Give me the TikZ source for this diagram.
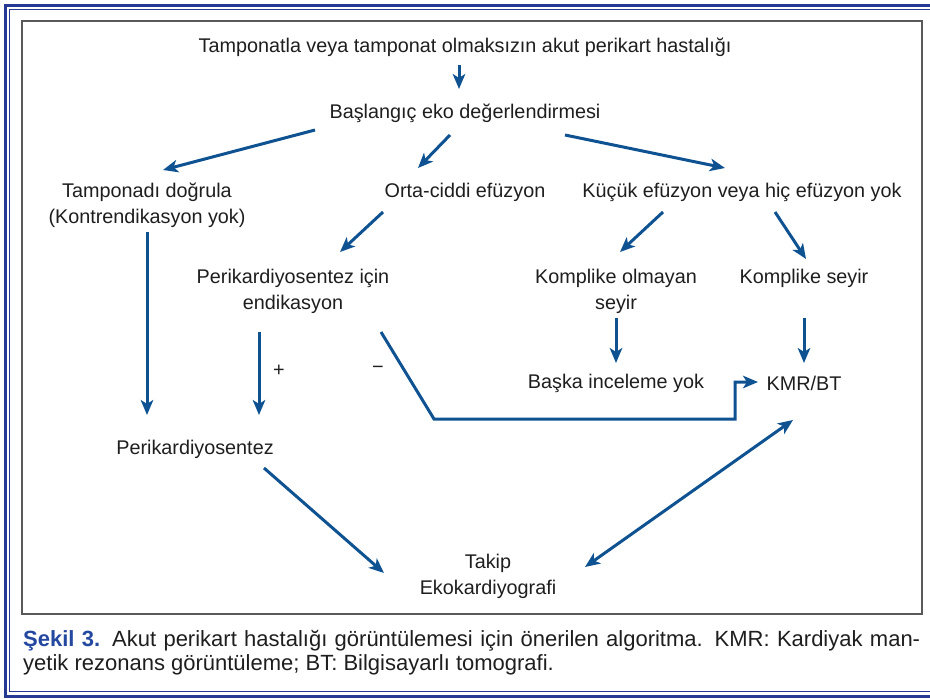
\documentclass[tikz,border=0pt]{standalone}
\usepackage{fontspec}
\setmainfont{Liberation Sans}
\usetikzlibrary{arrows.meta}
\definecolor{arrblue}{RGB}{14,82,146}
\definecolor{frameblue}{RGB}{38,58,148}
\definecolor{capblue}{RGB}{36,72,160}
\definecolor{txt}{RGB}{30,30,30}
\begin{document}
\begin{tikzpicture}[x=1pt,y=-1pt,
  lbl/.style={font=\fontsize{19.8}{26}\selectfont, text=txt, inner sep=0pt, align=center},
  tip/.tip={Stealth[length=15pt,width=12.5pt,inset=4pt]},
  arr/.style={draw=arrblue, line width=3pt, -tip},
  darr/.style={draw=arrblue, line width=3pt, tip-tip},
  capt/.style={anchor=base west, inner sep=0pt, text=txt, font=\fontsize{22}{24}\selectfont}
]
\useasboundingbox (0,0) rectangle (930,699);
% frame
\draw[frameblue, line width=3pt] (930,5) -- (5,5) -- (5,696) -- (930,696);
\draw[frameblue, line width=1.3pt] (930,9.5) -- (9.5,9.5) -- (9.5,691.5) -- (930,691.5);
\draw[black!65, line width=1.4pt] (22,21) rectangle (922,614);

% nodes
\node[lbl] (top) at (465,47) {Tamponatla veya tamponat olmaksızın akut perikart hastalığı};
\node[lbl] (bas) at (465,113) {Başlangıç eko değerlendirmesi};
\node[lbl] (tam) at (147,205) {Tamponadı doğrula\\(Kontrendikasyon yok)};
\node[lbl] (orta) at (465,192) {Orta-ciddi efüzyon};
\node[lbl] (kucuk) at (742,192) {Küçük efüzyon veya hiç efüzyon yok};
\node[lbl] (endi) at (293,291) {Perikardiyosentez için\\endikasyon};
\node[lbl] (kom) at (616,291) {Komplike olmayan\\seyir};
\node[lbl] (komp) at (804,278) {Komplike seyir};
\node[lbl] (baska) at (616,383) {Başka inceleme yok};
\node[lbl] (kmr) at (804,383) {KMR/BT};
\node[lbl] (peri) at (195,449) {Perikardiyosentez};
\node[lbl] (takip) at (488,576) {Takip\\Ekokardiyografi};
\node[lbl] (plus) at (279,371) {+};
\node[lbl] (minus) at (378,370) {−};

% connector end points
\coordinate (a1) at (459,65);  \coordinate (a2) at (459,89);
\coordinate (b1) at (315,130); \coordinate (b2) at (163,170);
\coordinate (c1) at (450,135); \coordinate (c2) at (418,168);
\coordinate (d1) at (565,135); \coordinate (d2) at (725,168);
\coordinate (e1) at (383,212); \coordinate (e2) at (340,252);
\coordinate (f1) at (663,212); \coordinate (f2) at (620,252);
\coordinate (g1) at (775,212); \coordinate (g2) at (806,259);
\coordinate (h1) at (616,318); \coordinate (h2) at (616,363);
\coordinate (i1) at (804,318); \coordinate (i2) at (804,363);
\coordinate (j1) at (147,232); \coordinate (j2) at (147,415);
\coordinate (k1) at (259,332); \coordinate (k2) at (259,415);
\coordinate (m1) at (381,332); \coordinate (m2) at (434,419);
\coordinate (m3) at (735,419); \coordinate (m4) at (735,382); \coordinate (m5) at (758,382);
\coordinate (n1) at (264,468); \coordinate (n2) at (384,573);
\coordinate (p1) at (585,567); \coordinate (p2) at (793,420);

\draw[arr] (a1) -- (a2);
\draw[arr] (b1) -- (b2);
\draw[arr] (c1) -- (c2);
\draw[arr] (d1) -- (d2);
\draw[arr] (e1) -- (e2);
\draw[arr] (f1) -- (f2);
\draw[arr] (g1) -- (g2);
\draw[arr] (h1) -- (h2);
\draw[arr] (i1) -- (i2);
\draw[arr] (j1) -- (j2);
\draw[arr] (k1) -- (k2);
\draw[arr] (m1) -- (m2) -- (m3) -- (m4) -- (m5);
\draw[arr] (n1) -- (n2);
\draw[darr] (p1) -- (p2);

% caption
\node[capt] (cap1) at (23,646)
  {\makebox[897pt][s]{\textcolor{capblue}{\bfseries Şekil 3.} Akut perikart hastalığı görüntülemesi için önerilen algoritma. KMR: Kardiyak man-}};
\node[capt] (cap2) at (23,670)
  {yetik rezonans görüntüleme; BT: Bilgisayarlı tomografi.};
\end{tikzpicture}
\end{document}
